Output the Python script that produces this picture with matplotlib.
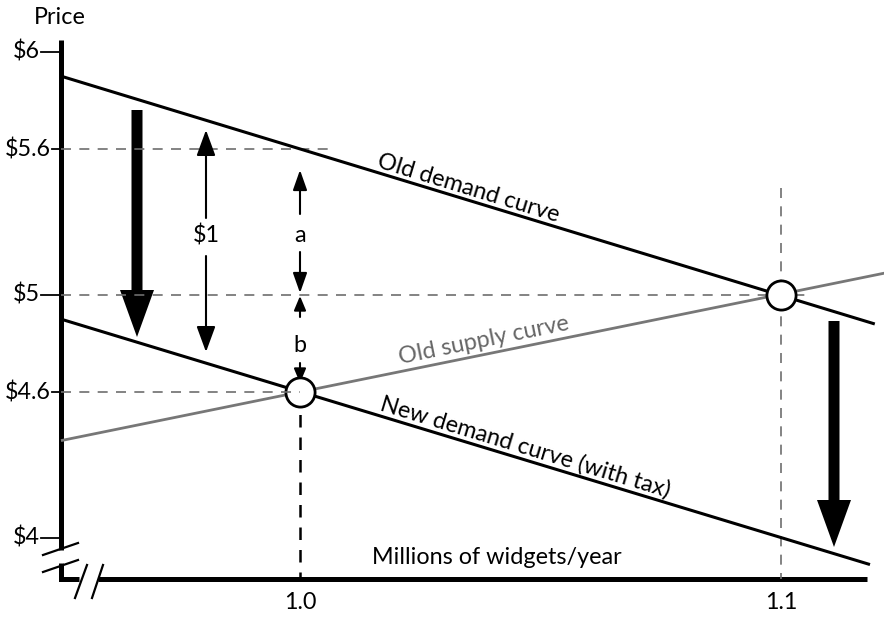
import numpy as np
import matplotlib
matplotlib.use('Agg')
import matplotlib.pyplot as plt
from matplotlib.patches import FancyArrow

# ---------------- data ----------------
quantity_ticks = [1.0, 1.1]
quantity_tick_labels = ['1.0', '1.1']
price_ticks = [6.0, 5.6, 5.0, 4.6, 4.0]
price_tick_labels = ['$6', '$5.6', '$5', '$4.6', '$4']

old_demand_q = [0.9503, 1.1195]
old_demand_p = [5.90, 4.88]
new_demand_q = [0.9503, 1.1185]
new_demand_p = [4.90, 3.89]
old_supply_q = [0.9503, 1.1217]
old_supply_p = [4.40, 5.09]

equilibrium_q = [1.0, 1.1]
equilibrium_p = [4.6, 5.0]
old_price_at_new_q = 5.6

plt.rcParams['font.family'] = ['Lato', 'DejaVu Sans']

W, H = 884, 617
fig = plt.figure(figsize=(W / 100, H / 100), dpi=100)
ax = fig.add_axes([0, 0, 1, 1])
ax.set_axis_off()


# pixel -> data helpers (for decorations only)
def qx(x):
    return 1.0 + (x - 300) / 4810.0


def py(y):
    return 5.04 - (y - 285.1) / 243.0


ax.set_xlim(qx(0), qx(W))
ax.set_ylim(py(H), py(0))

FS = 16.8
BLACK = '#000000'
GRAY = '#6e6e6e'

q_axis = qx(61)
p_axis = py(579)

# ---------------- axes with breaks ----------------
axlw = 3.6
ax.plot([q_axis, q_axis], [py(40), py(550)], color=BLACK, lw=axlw, solid_capstyle='butt')
ax.plot([q_axis, q_axis, qx(79)], [py(563), p_axis, p_axis], color=BLACK, lw=axlw,
        solid_capstyle='butt', solid_joinstyle='miter')
ax.plot([qx(98), qx(867)], [p_axis, p_axis], color=BLACK, lw=axlw, solid_capstyle='butt')
for (x0, y0, x1, y1) in [(43, 555, 78, 543), (43, 572, 78, 560),
                         (75, 598, 87, 565), (92, 598, 103, 565)]:
    ax.plot([qx(x0), qx(x1)], [py(y0), py(y1)], color=BLACK, lw=1.6)

ax.text(qx(60), py(17), 'Price', ha='center', va='center', fontsize=FS)
ax.text(qx(497), py(557), 'Millions of widgets/year', ha='center', va='center', fontsize=FS)

# y tick labels and ticks
for val, lab in zip(price_ticks, price_tick_labels):
    right = qx(40) if len(lab) <= 2 else qx(51)
    ax.text(right, val, lab, ha='right', va='center', fontsize=FS)
    ax.plot([right + (qx(1) - qx(0)), q_axis], [val, val], color=BLACK, lw=1.3)

# x tick labels
for val, lab in zip(quantity_ticks, quantity_tick_labels):
    ax.text(val, py(602), lab, ha='center', va='center', fontsize=FS)

# ---------------- dashed guides ----------------
dash = dict(color=GRAY, lw=1.2, dashes=(6, 5))
ax.plot([q_axis, qx(333)], [old_price_at_new_q, old_price_at_new_q], **dash)
ax.plot([q_axis, qx(808)], [equilibrium_p[1], equilibrium_p[1]], **dash)
ax.plot([q_axis, equilibrium_q[0]], [equilibrium_p[0], equilibrium_p[0]], zorder=6, **dash)
ax.plot([equilibrium_q[1], equilibrium_q[1]], [py(188), p_axis], **dash)
ax.plot([equilibrium_q[0], equilibrium_q[0]], [equilibrium_p[0], p_axis], color=BLACK, lw=1.8,
        dashes=(5, 4))

# ---------------- curves ----------------
ax.plot(old_demand_q, old_demand_p, color=BLACK, lw=2.2, solid_capstyle='butt')
ax.plot(new_demand_q, new_demand_p, color=BLACK, lw=2.2, solid_capstyle='butt')
ax.plot(old_supply_q, old_supply_p, color='#777777', lw=2.0, solid_capstyle='butt')

ax.plot(equilibrium_q, equilibrium_p, 'o', ms=21, mfc='white', mec=BLACK, mew=2.0, zorder=5)

# rotated curve labels
fig.canvas.draw()


def angle_of(qs, ps):
    p0 = ax.transData.transform((qs[0], ps[0]))
    p1 = ax.transData.transform((qs[1], ps[1]))
    return np.degrees(np.arctan2(p1[1] - p0[1], p1[0] - p0[0]))


ax.text(qx(468), py(188), 'Old demand curve', fontsize=FS, ha='center', va='center',
        rotation=angle_of(old_demand_q, old_demand_p), rotation_mode='anchor')
ax.text(qx(484), py(340), 'Old supply curve', fontsize=FS, ha='center', va='center', color='#666666',
        rotation=angle_of(old_supply_q, old_supply_p), rotation_mode='anchor')
ax.text(qx(525), py(447), 'New demand curve (with tax)', fontsize=FS, ha='center', va='center',
        rotation=angle_of(new_demand_q, new_demand_p), rotation_mode='anchor')

# ---------------- big shift arrows ----------------
sw = qx(11) - qx(0)
hw = qx(34) - qx(0)
hl = py(0) - py(47)
for xq, ytop, ytip in [(qx(137), py(110), py(337)), (qx(834), py(321), py(547))]:
    ax.add_patch(FancyArrow(xq, ytop, 0, ytip - ytop, width=sw, head_width=hw, head_length=hl,
                            length_includes_head=True, color=BLACK, lw=0))


# ---------------- thin double arrows ----------------
def thin_arrow(x, y_from, y_to, hlen, hwid, lw=1.5):
    ax.annotate('', xy=(x, y_to), xytext=(x, y_from),
                arrowprops=dict(arrowstyle=f'-|>,head_length={hlen},head_width={hwid}',
                                lw=lw, color=BLACK, shrinkA=0, shrinkB=0, mutation_scale=10))


# $1 arrow
x1 = qx(206)
thin_arrow(x1, py(218), py(130), 1.58, 0.58)
thin_arrow(x1, py(256), py(352), 1.58, 0.58)
ax.text(x1, py(236), '$1', ha='center', va='center', fontsize=FS)

# a arrow
xa = equilibrium_q[0]
thin_arrow(xa, py(214), py(170), 1.22, 0.43)
thin_arrow(xa, py(252), py(293), 1.22, 0.43)
ax.text(xa, py(235), 'a', ha='center', va='center', fontsize=FS)

# b arrow
thin_arrow(xa, py(317), py(296), 0.86, 0.36)
thin_arrow(xa, py(363), py(383), 0.86, 0.36)
ax.text(xa, py(346), 'b', ha='center', va='center', fontsize=FS)

fig.savefig('out.png', dpi=100)
